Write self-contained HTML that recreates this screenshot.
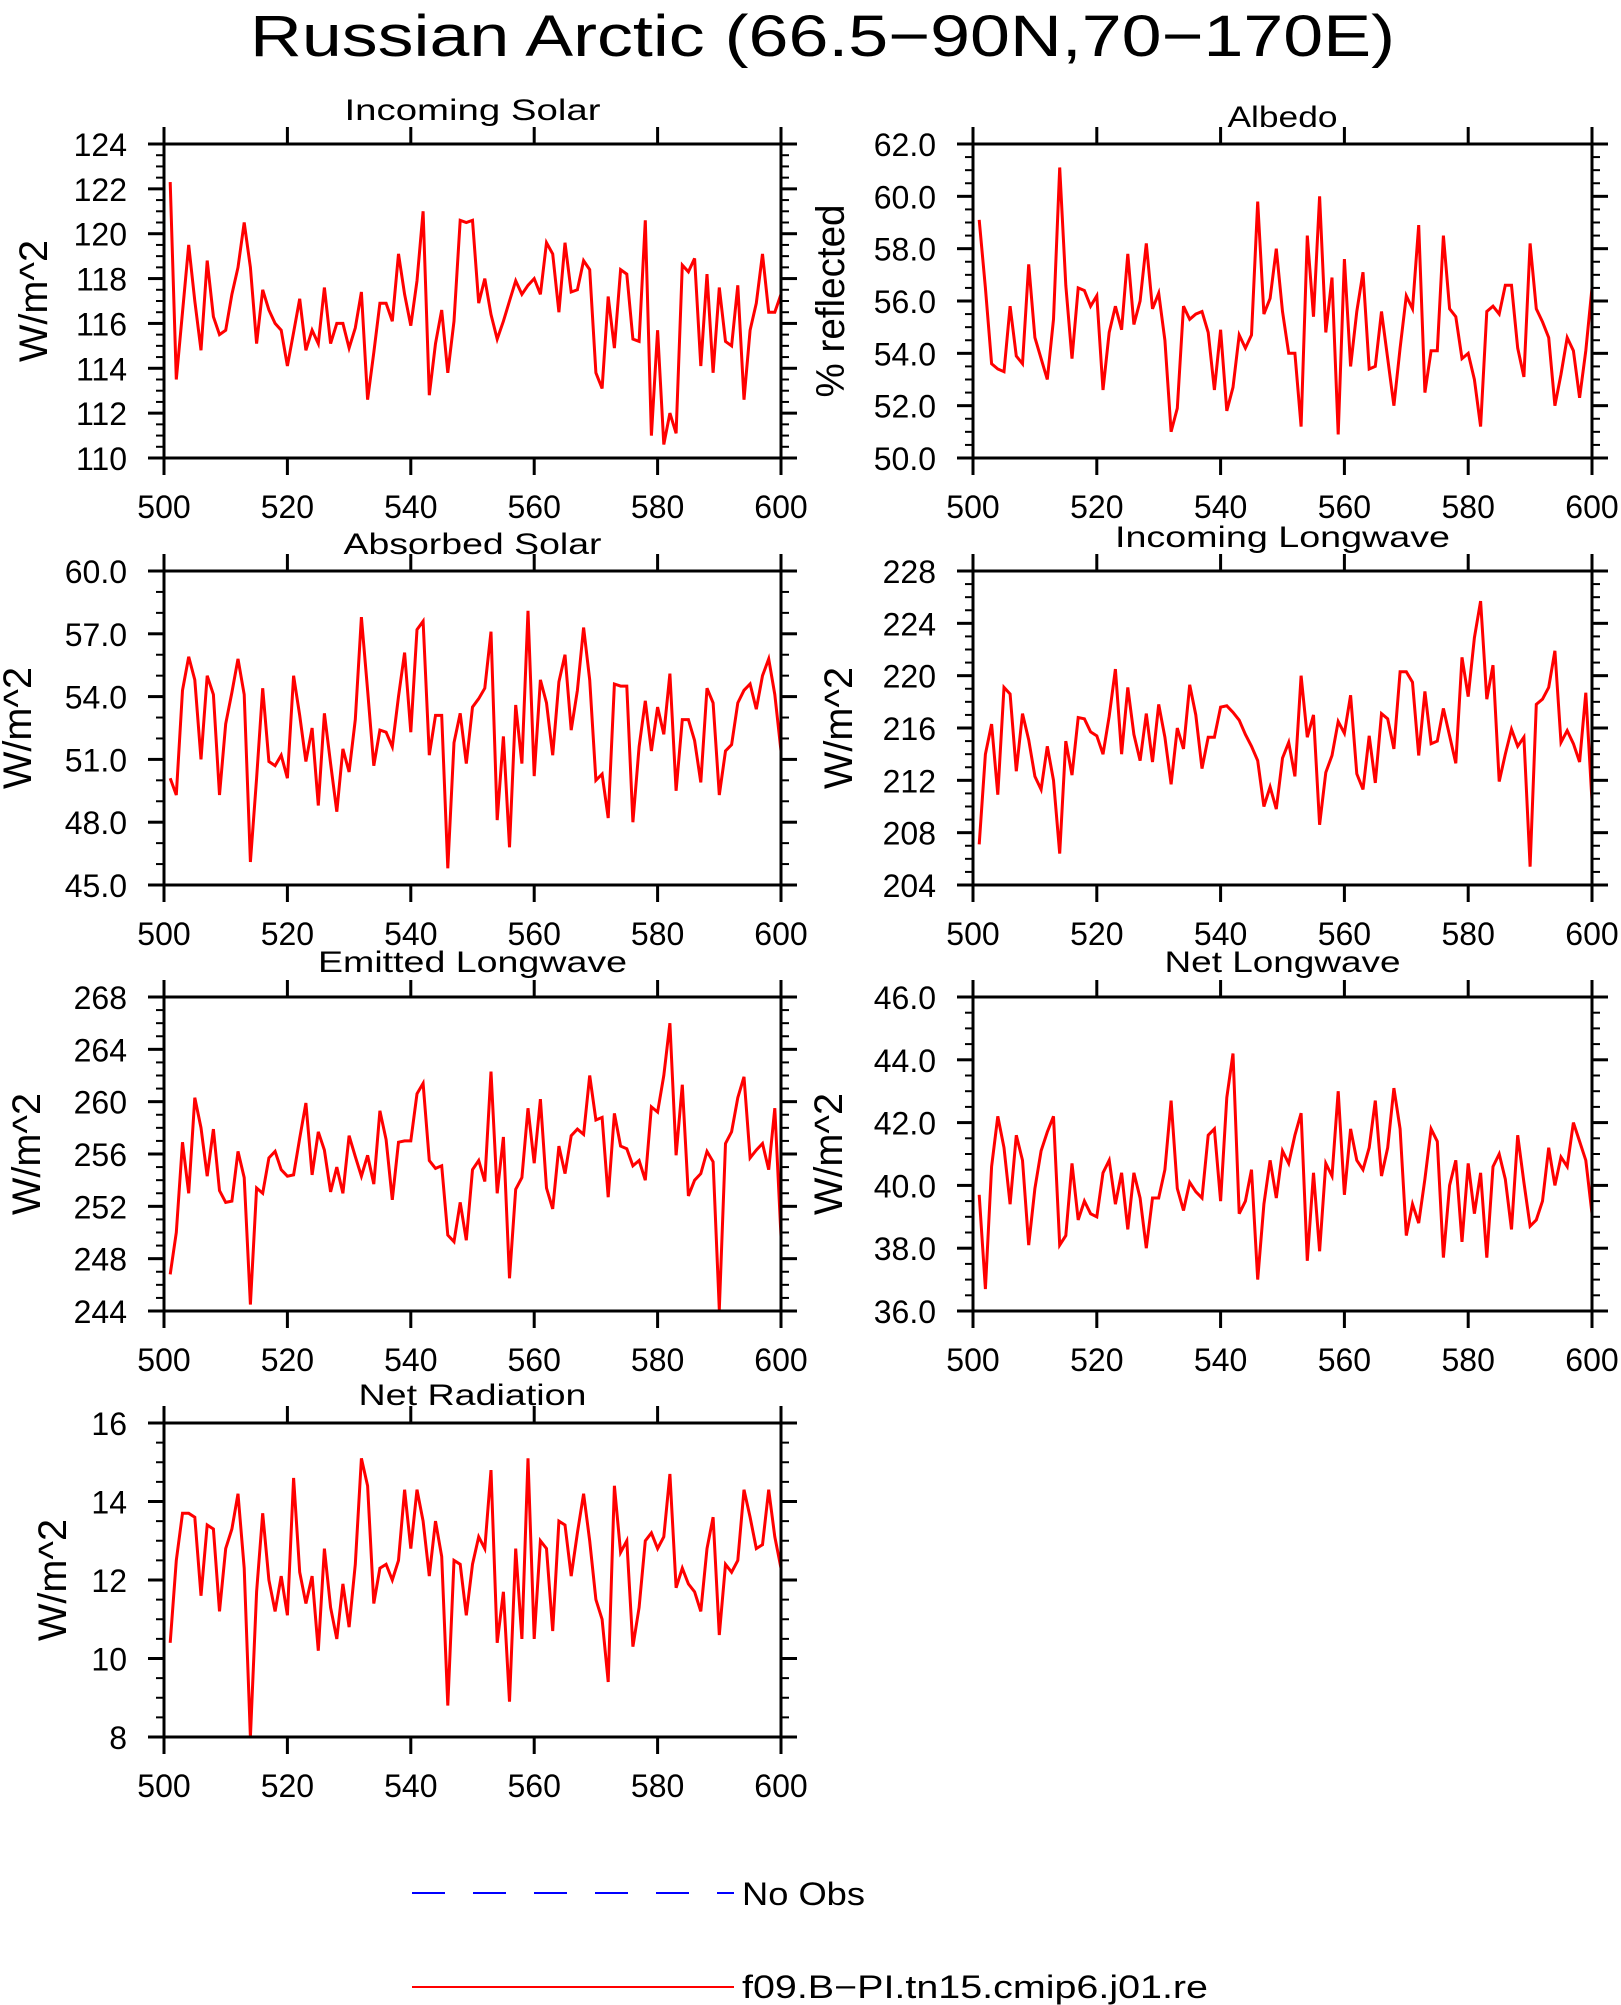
<!DOCTYPE html>
<html><head><meta charset="utf-8"><style>
html,body{margin:0;padding:0;background:#fff;}
svg{display:block;font-family:"Liberation Sans",sans-serif;}
</style></head><body>
<svg id="chart" width="1621" height="2005" viewBox="0 0 1621 2005" xmlns="http://www.w3.org/2000/svg">
<rect width="1621" height="2005" fill="#fff"/>
<text x="250" y="56" font-size="58" textLength="1145" lengthAdjust="spacingAndGlyphs" fill="#000">Russian Arctic (66.5−90N,70−170E)</text>
<g>
<line x1="412" y1="1893" x2="734" y2="1893" stroke="#0000ff" stroke-width="2" stroke-dasharray="33,28"/>
<text x="742" y="1905" font-size="32" textLength="123" lengthAdjust="spacingAndGlyphs">No Obs</text>
<line x1="412" y1="1987" x2="734" y2="1987" stroke="#ff0000" stroke-width="2"/>
<text x="742" y="1998" font-size="32" textLength="466" lengthAdjust="spacingAndGlyphs">f09.B−PI.tn15.cmip6.j01.re</text>
</g>
</svg>
<script>
const years=[501,502,503,504,505,506,507,508,509,510,511,512,513,514,515,516,517,518,519,520,521,522,523,524,525,526,527,528,529,530,531,532,533,534,535,536,537,538,539,540,541,542,543,544,545,546,547,548,549,550,551,552,553,554,555,556,557,558,559,560,561,562,563,564,565,566,567,568,569,570,571,572,573,574,575,576,577,578,579,580,581,582,583,584,585,586,587,588,589,590,591,592,593,594,595,596,597,598,599,600];
const incomingSolar=[122.3,113.5,116.5,119.5,117,114.8,118.8,116.3,115.5,115.7,117.3,118.5,120.5,118.5,115.1,117.5,116.6,116.0,115.7,114.1,115.6,117.1,114.8,115.7,115.1,117.6,115.1,116.0,116.0,114.9,115.8,117.4,112.6,114.7,116.9,116.9,116.1,119.1,117.3,115.9,117.9,121.0,112.8,115.1,116.6,113.8,116.1,120.6,120.5,120.6,116.9,118.0,116.4,115.3,116.1,117.0,117.9,117.3,117.7,118.0,117.3,119.6,119.1,116.5,119.6,117.4,117.5,118.8,118.4,113.8,113.1,117.2,114.9,118.4,118.2,115.3,115.2,120.6,111.0,115.7,110.6,112.0,111.1,118.6,118.3,118.9,114.1,118.2,113.8,117.6,115.2,115.0,117.7,112.6,115.7,116.9,119.1,116.5,116.5,117.3];
const albedo=[59.1,56.5,53.6,53.4,53.3,55.8,53.9,53.6,57.4,54.6,53.8,53.0,55.3,61.1,56.6,53.8,56.5,56.4,55.8,56.2,52.6,54.8,55.8,54.9,57.8,55.1,56.0,58.2,55.7,56.3,54.5,51.0,51.9,55.8,55.3,55.5,55.6,54.8,52.6,54.9,51.8,52.7,54.7,54.2,54.7,59.8,55.5,56.1,58.0,55.6,54.0,54.0,51.2,58.5,55.4,60.0,54.8,56.9,50.9,57.6,53.5,55.6,57.1,53.4,53.5,55.6,53.8,52.0,54.2,56.2,55.7,58.9,52.5,54.1,54.1,58.5,55.7,55.4,53.8,54.0,53.0,51.2,55.6,55.8,55.5,56.6,56.6,54.2,53.1,58.2,55.7,55.2,54.6,52.0,53.2,54.6,54.1,52.3,54.1,56.5];
const absorbedSolar=[50.1,49.3,54.3,55.9,54.8,51.0,55.0,54.1,49.3,52.7,54.2,55.8,54.1,46.1,50.1,54.4,50.9,50.7,51.2,50.1,55.0,53.1,50.9,52.5,48.8,53.2,50.8,48.5,51.5,50.4,52.9,57.8,54.3,50.7,52.4,52.3,51.6,54.0,56.1,52.3,57.2,57.6,51.2,53.1,53.1,45.8,51.8,53.2,50.8,53.5,53.9,54.4,57.1,48.1,52.1,46.8,53.6,50.8,58.1,50.2,54.8,53.7,51.2,54.7,56.0,52.4,54.3,57.3,54.8,50.0,50.3,48.2,54.6,54.5,54.5,48.0,51.6,53.8,51.4,53.5,52.2,55.1,49.5,52.9,52.9,51.9,49.9,54.4,53.7,49.3,51.4,51.7,53.7,54.3,54.6,53.4,55.0,55.8,54.1,51.4];
const incomingLW=[207.1,214.0,216.3,210.9,219.1,218.6,212.7,217.1,215.1,212.3,211.3,214.6,212.0,206.4,215.0,212.4,216.8,216.7,215.7,215.4,214.0,216.9,220.5,214.0,219.1,215.5,213.5,217.1,213.4,217.8,215.3,211.7,216.0,214.4,219.3,217.0,212.9,215.3,215.3,217.6,217.7,217.2,216.6,215.5,214.6,213.5,210.0,211.5,209.8,213.7,214.9,212.3,220.0,215.3,217.0,208.6,212.6,213.9,216.5,215.6,218.5,212.5,211.3,215.4,211.8,217.1,216.7,214.4,220.3,220.3,219.5,213.9,218.8,214.8,215.0,217.5,215.4,213.3,221.4,218.4,222.9,225.7,218.2,220.8,211.9,214.0,215.9,214.6,215.3,205.4,217.8,218.2,219.1,221.9,214.9,215.8,214.8,213.4,218.7,210.4];
const emittedLW=[246.8,250.0,256.9,253.0,260.3,258.0,254.3,257.9,253.2,252.3,252.4,256.2,254.2,244.5,253.4,253.0,255.7,256.2,254.8,254.3,254.4,257.2,259.9,254.4,257.7,256.3,253.1,255.0,253.0,257.4,255.8,254.3,255.9,253.7,259.3,257.1,252.5,256.9,257.0,257.0,260.6,261.4,255.5,254.9,255.1,249.8,249.3,252.3,249.4,254.8,255.5,253.9,262.3,253.0,257.3,246.5,253.3,254.2,259.5,255.3,260.2,253.4,251.8,256.6,254.5,257.4,257.9,257.5,262.0,258.6,258.8,252.7,259.1,256.6,256.4,255.1,255.5,254.0,259.6,259.2,262.0,266.0,255.9,261.3,252.8,254.0,254.5,256.2,255.4,244.1,256.8,257.7,260.3,261.9,255.7,256.3,256.8,254.8,259.5,249.7];
const netLW=[39.7,36.7,40.6,42.2,41.2,39.4,41.6,40.8,38.1,39.9,41.1,41.7,42.2,38.1,38.4,40.7,38.9,39.5,39.1,39.0,40.4,40.8,39.4,40.4,38.6,40.4,39.6,38.0,39.6,39.6,40.5,42.7,39.9,39.2,40.1,39.8,39.6,41.6,41.8,39.5,42.8,44.2,39.1,39.5,40.5,37.0,39.4,40.8,39.6,41.1,40.7,41.6,42.3,37.6,40.4,37.9,40.7,40.3,43.0,39.7,41.8,40.8,40.5,41.2,42.7,40.3,41.2,43.1,41.8,38.4,39.4,38.8,40.2,41.8,41.4,37.7,40.0,40.8,38.2,40.7,39.1,40.4,37.7,40.6,41.0,40.2,38.6,41.6,40.1,38.7,38.9,39.5,41.2,40.0,40.9,40.6,42.0,41.4,40.8,39.1];
const netRad=[10.4,12.5,13.7,13.7,13.6,11.6,13.4,13.3,11.2,12.8,13.3,14.2,12.3,8.0,11.7,13.7,12.0,11.2,12.1,11.1,14.6,12.2,11.4,12.1,10.2,12.8,11.3,10.5,11.9,10.8,12.4,15.1,14.4,11.4,12.3,12.4,12.0,12.5,14.3,12.8,14.3,13.5,12.1,13.5,12.6,8.8,12.5,12.4,11.1,12.4,13.1,12.8,14.8,10.4,11.7,8.9,12.8,10.5,15.1,10.5,13.0,12.8,10.7,13.5,13.4,12.1,13.2,14.2,13.0,11.5,11.0,9.4,14.4,12.7,13.0,10.3,11.3,13.0,13.2,12.8,13.1,14.7,11.8,12.3,11.9,11.7,11.2,12.8,13.6,10.6,12.4,12.2,12.5,14.3,13.6,12.8,12.9,14.3,13.1,12.3];
const xTicks=[500,520,540,560,580,600];
const ticksIncomingSolar=[110,112,114,116,118,120,122,124];
const ticksAlbedo=[50,52,54,56,58,60,62];
const ticksAbsorbed=[45,48,51,54,57,60];
const ticksIncomingLW=[204,208,212,216,220,224,228];
const ticksEmitted=[244,248,252,256,260,264,268];
const ticksNetLW=[36,38,40,42,44,46];
const ticksNetRad=[8,10,12,14,16];

const NS="http://www.w3.org/2000/svg";
const svg=document.getElementById('chart');
function mk(tag,attrs,parent){const e=document.createElementNS(NS,tag);for(const k in attrs)e.setAttribute(k,attrs[k]);(parent||svg).appendChild(e);return e;}

const panels=[
 {key:'incoming-solar',title:'Incoming Solar',data:incomingSolar,ticks:ticksIncomingSolar,dec:0,minor:0.5,x0:164,x1:781,y0:144,y1:458,tb:120,tw:256,yt:'W/m^2',ytx:34,ytw:122},
 {key:'albedo',title:'Albedo',data:albedo,ticks:ticksAlbedo,dec:1,minor:0.5,x0:973,x1:1592,y0:144,y1:458,tb:127,tw:110,yt:'% reflected',ytx:831,ytw:193},
 {key:'absorbed-solar',title:'Absorbed Solar',data:absorbedSolar,ticks:ticksAbsorbed,dec:1,minor:1,x0:164,x1:781,y0:571,y1:885,tb:554,tw:258,yt:'W/m^2',ytx:18,ytw:122},
 {key:'incoming-longwave',title:'Incoming Longwave',data:incomingLW,ticks:ticksIncomingLW,dec:0,minor:1,x0:973,x1:1592,y0:571,y1:885,tb:547,tw:335,yt:'W/m^2',ytx:839,ytw:122},
 {key:'emitted-longwave',title:'Emitted Longwave',data:emittedLW,ticks:ticksEmitted,dec:0,minor:1,x0:164,x1:781,y0:997,y1:1311,tb:972,tw:309,yt:'W/m^2',ytx:27,ytw:122},
 {key:'net-longwave',title:'Net Longwave',data:netLW,ticks:ticksNetLW,dec:1,minor:0.5,x0:973,x1:1592,y0:997,y1:1311,tb:972,tw:236,yt:'W/m^2',ytx:829,ytw:122},
 {key:'net-radiation',title:'Net Radiation',data:netRad,ticks:ticksNetRad,dec:0,minor:0.5,x0:164,x1:781,y0:1423,y1:1737,tb:1405,tw:228,yt:'W/m^2',ytx:53,ytw:122}
];

panels.forEach(p=>{
 const g=mk('g',{});
 
 
 const ymin=p.ticks[0],ymax=p.ticks[p.ticks.length-1];
 const xs=v=>p.x0+(v-xTicks[0])/(xTicks[xTicks.length-1]-xTicks[0])*(p.x1-p.x0);
 const ys=v=>p.y1-(v-ymin)/(ymax-ymin)*(p.y1-p.y0);
 const t=mk('text',{x:(p.x0+p.x1)/2-p.tw/2,y:p.tb,'font-size':30,textLength:p.tw,lengthAdjust:'spacingAndGlyphs'},g);
 
 
 t.textContent=p.title;
 const cy=(p.y0+p.y1)/2;
 const yt=mk('text',{x:p.ytx,y:cy,'font-size':40,'text-anchor':'middle','dominant-baseline':'central',transform:'rotate(-90 '+p.ytx+' '+cy+')',textLength:p.ytw,lengthAdjust:'spacingAndGlyphs'},g);
 
 
 yt.textContent=p.yt;
 const n=Math.round((ymax-ymin)/p.minor);
 for(let i=0;i<=n;i++){
  const v=ymin+i*p.minor;const y=ys(v);
  const isMajor=p.ticks.some(tv=>Math.abs(tv-v)<1e-6);
  const L=isMajor?16:8;
  const a=mk('line',{x1:p.x0-L,y1:y,x2:p.x0,y2:y,stroke:'#000','stroke-width':isMajor?3:2},g);
  
  
  const b=mk('line',{x1:p.x1,y1:y,x2:p.x1+L,y2:y,stroke:'#000','stroke-width':isMajor?3:2},g);
  
  
 }
 p.ticks.forEach(v=>{
  const lb=mk('text',{x:p.x0-37,y:ys(v)+12,'font-size':32,'text-anchor':'end'},g);
  
  
  lb.textContent=v.toFixed(p.dec);
 });
 xTicks.forEach(v=>{
  const x=xs(v);
  const a=mk('line',{x1:x,y1:p.y1,x2:x,y2:p.y1+17,stroke:'#000','stroke-width':3},g);
  
  
  const b=mk('line',{x1:x,y1:p.y0-17,x2:x,y2:p.y0,stroke:'#000','stroke-width':3},g);
  
  
  const lb=mk('text',{x:x,y:p.y1+60,'font-size':32,'text-anchor':'middle'},g);
  
  
  lb.textContent=String(v);
 });
 const pts=p.data.map((v,i)=>xs(years[i]).toFixed(1)+','+ys(v).toFixed(1)).join(' ');
 const pl=mk('polyline',{points:pts,fill:'none',stroke:'#ff0000','stroke-width':3,'stroke-linejoin':'miter'},g);
 
 
 const fr=mk('rect',{x:p.x0,y:p.y0,width:p.x1-p.x0,height:p.y1-p.y0,fill:'none',stroke:'#000','stroke-width':3},g);
 
 
});
</script>
</body></html>
